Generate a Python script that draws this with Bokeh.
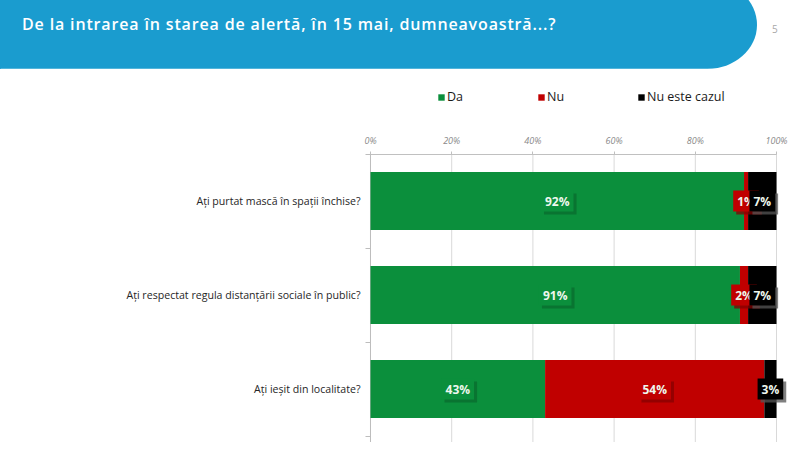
from bokeh.plotting import figure
from bokeh.models import ColumnDataSource, FixedTicker, Legend, LegendItem, Div, Range1d
from bokeh.layouts import column
from bokeh.embed import file_html
from bokeh.resources import INLINE
from bokeh.core.properties import value

# ---------------- data ----------------
title_text = "De la intrarea în starea de alertă, în 15 mai, dumneavoastră...?"
page_number = "5"
questions = [
    "Ați purtat mască în spații închise?",
    "Ați respectat regula distanțării sociale în public?",
    "Ați ieșit din localitate?",
]
da = [92, 91, 43]
nu = [1, 2, 54]
nu_este_cazul = [7, 7, 3]
series_names = ["Da", "Nu", "Nu este cazul"]
series_colors = ["#0b8f3c", "#c00000", "#000000"]
shadow_colors = ["#0a6b2e", "#850000", "#555555"]
x_ticks = [0, 20, 40, 60, 80, 100]

FONT = "Open Sans"

# ---------------- header ----------------
header_html = (
    '<div style="position:relative;left:0;top:0;width:792px;height:68px;">'
    '<div style="position:absolute;left:0;top:-20px;width:757px;height:89px;background:#1a9ccf;'
    'border-top-right-radius:50px 45px;border-bottom-right-radius:50px 44px;"></div>'
    f'<div style="position:absolute;left:22px;top:13px;color:#ffffff;font-family:\'{FONT}\';'
    f'font-weight:600;font-size:16px;letter-spacing:0.85px;white-space:nowrap;">{title_text}</div>'
    f'<div style="position:absolute;left:772px;top:22px;color:#a8a8a8;font-family:\'{FONT}\';'
    f'font-size:10px;">{page_number}</div>'
    '</div>'
)
header = Div(text=header_html, width=792, height=68, margin=0)

# ---------------- chart ----------------
ys = list(range(len(questions)))
Y_TOP, Y_BOTTOM = -1.197, 2.569
X_LEFT, X_RIGHT = -1.970, 102.956
p = figure(
    width=792, height=374,
    x_range=Range1d(X_LEFT, X_RIGHT), y_range=Range1d(Y_BOTTOM, Y_TOP),
    output_backend="svg", toolbar_location=None,
    x_axis_location="above",
    min_border_left=362, min_border_right=4, min_border_top=20, min_border_bottom=0,
)
p.outline_line_color = None
p.background_fill_color = "#ffffff"
p.border_fill_color = "#ffffff"

# vertical grid lines (below the axis line only)
p.segment(x0=x_ticks, x1=x_ticks, y0=[-0.5] * len(x_ticks), y1=[Y_BOTTOM] * len(x_ticks),
          line_color="#d9d9d9", line_width=1, level="underlay")
# value axis base line (0 %)
p.segment(x0=[x_ticks[0]], x1=[x_ticks[0]], y0=[-0.5], y1=[Y_BOTTOM],
          line_color="#bdbdbd", line_width=1, level="underlay")

series = [da, nu, nu_este_cazul]
left = [0.0] * len(questions)
renderers = []
label_specs = []
for name, vals, col, sh in zip(series_names, series, series_colors, shadow_colors):
    right = [l + v for l, v in zip(left, vals)]
    src = ColumnDataSource(dict(y=ys, left=left, right=right,
                                mid=[(l + r) / 2 for l, r in zip(left, right)],
                                lab=[f"{v}%" for v in vals]))
    r = p.hbar(y="y", left="left", right="right", height=0.617, source=src,
               fill_color=col, line_color=None)
    renderers.append((name, r))
    label_specs.append((src, col, sh))
    left = right

for src, col, sh in label_specs:
    p.text(x="mid", y="y", text="lab", source=src, x_offset=3, y_offset=3,
           text_alpha=0, text_font=value(FONT), text_font_size="12px", text_font_style="bold",
           text_align="center", text_baseline="middle",
           background_fill_color=sh, background_fill_alpha=0.75, padding=(4, 2))
    p.text(x="mid", y="y", text="lab", source=src,
           text_color="#eef7ee", text_font=value(FONT), text_font_size="12px", text_font_style="bold",
           text_align="center", text_baseline="middle",
           background_fill_color=col, padding=(4, 2))

# x axis (top, pinned at the top of the first category band)
xa = p.xaxis[0]
xa.fixed_location = -0.5
xa.bounds = (x_ticks[0], x_ticks[-1])
xa.ticker = FixedTicker(ticks=x_ticks, minor_ticks=[])
xa.major_label_overrides = {t: f"{t}%" for t in x_ticks}
xa.major_label_text_font = FONT
xa.major_label_text_font_style = "italic"
xa.major_label_text_font_size = "9px"
xa.major_label_text_color = "#8a8a8a"
xa.axis_line_color = "#c0c0c0"
xa.major_tick_line_color = "#c0c0c0"
xa.major_tick_out = 3
xa.major_tick_in = 0
xa.major_label_standoff = 4

# y axis (left): category labels + separator ticks
ya = p.yaxis[0]
ya.ticker = FixedTicker(ticks=ys, minor_ticks=[-0.5, 0.5, 1.5, 2.5])
ya.major_label_overrides = {i: q for i, q in zip(ys, questions)}
ya.major_label_text_font = FONT
ya.major_label_text_font_size = "10.6px"
ya.major_label_text_color = "#262626"
ya.major_tick_line_color = None
ya.minor_tick_line_color = "#bdbdbd"
ya.minor_tick_out = -3
ya.minor_tick_in = 8
ya.axis_line_color = None
ya.major_label_standoff = -4

p.xgrid.grid_line_color = None
p.ygrid.grid_line_color = None

legend = Legend(
    items=[LegendItem(label=n, renderers=[r]) for n, r in renderers],
    orientation="horizontal",
    location=(75, 337),
    label_text_font=FONT, label_text_font_size="12.5px", label_text_color="#1a1a1a",
    glyph_width=8, glyph_height=8, label_standoff=2, spacing=70,
    padding=0, margin=0, label_height=12,
    border_line_color=None, background_fill_alpha=0,
)
p.add_layout(legend)

page = column(header, p, spacing=0)
open("out.html", "w").write(file_html(page, INLINE))
